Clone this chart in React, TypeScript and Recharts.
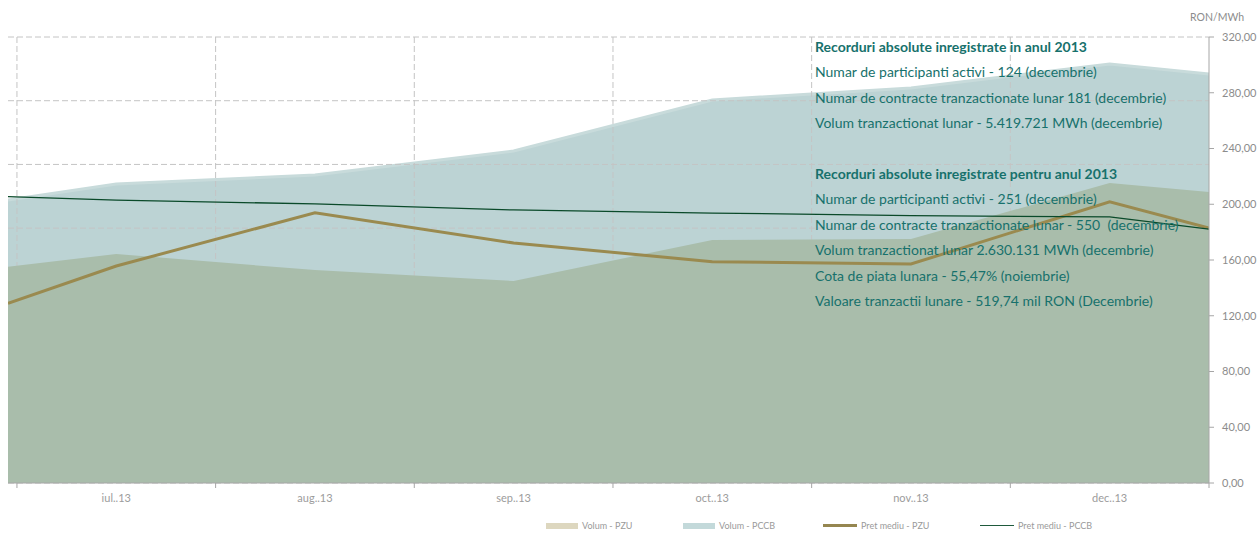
import { Area, CartesianGrid, ComposedChart, Line, XAxis, YAxis } from "recharts";

const months = ["iul..13", "aug..13", "sep..13", "oct..13", "nov..13", "dec..13"];
// volumes (thousand MWh, hidden left axis) and prices (RON/MWh, right axis)
const volumPccb = [2346, 2417, 2605, 3006, 3100, 3288];
const volumPzu = [1797, 1671, 1585, 1907, 1915, 2354];
const pretPzu = [155.7, 193.9, 172.2, 158.8, 157.1, 201.8];
const pretPccb = [203.0, 200.2, 195.9, 193.7, 191.8, 190.9];
// where the series are cut by the left and right edges of the plot
const edgeX = [-0.545, 5.5];
const edgeVolumPccb = [2221, 3210];
const edgeVolumPzu = [1697, 2284];
const edgePretPzu = [128.9, 183.0];
const edgePretPccb = [205.4, 182.2];

const priceTicks = [0, 40, 80, 120, 160, 200, 240, 280, 320];
const volumeTicks = [0, 500, 1000, 1500, 2000, 2500, 3000, 3500];
const xTicks = [-0.5, 0, 0.5, 1, 1.5, 2, 2.5, 3, 3.5, 4, 4.5, 5, 5.5];
const gridX = [-0.5, 0.5, 1.5, 2.5, 3.5, 4.5];

const recordsYear = [
  "Numar de participanti activi - 124 (decembrie)",
  "Numar de contracte tranzactionate lunar 181 (decembrie)",
  "Volum tranzactionat lunar - 5.419.721 MWh (decembrie)",
];
const recordsFor2013 = [
  "Numar de participanti activi - 251 (decembrie)",
  "Numar de contracte tranzactionate lunar - 550  (decembrie)",
  "Volum tranzactionat lunar 2.630.131 MWh (decembrie)",
  "Cota de piata lunara - 55,47% (noiembrie)",
  "Valoare tranzactii lunare - 519,74 mil RON (Decembrie)",
];

const data = [
  { x: edgeX[0], vPccb: edgeVolumPccb[0], vPzu: edgeVolumPzu[0], pPzu: edgePretPzu[0], pPccb: edgePretPccb[0] },
  ...months.map((_, i) => ({
    x: i,
    vPccb: volumPccb[i],
    vPzu: volumPzu[i],
    pPzu: pretPzu[i],
    pPccb: pretPccb[i],
  })),
  { x: edgeX[1], vPccb: edgeVolumPccb[1], vPzu: edgeVolumPzu[1], pPzu: edgePretPzu[1], pPccb: edgePretPccb[1] },
];

const FONT = "Lato, 'Open Sans', sans-serif";
const TEXT = "#17716c";
const AXIS = "#a6a6a6";

function MonthTick({ x, y, payload }: any) {
  const v = payload.value as number;
  if (Number.isInteger(v)) {
    return (
      <text x={x} y={y + 19} textAnchor="middle" fill="#9c9c9c" fontSize={11} fontFamily={FONT}>
        {months[v]}
      </text>
    );
  }
  return <line x1={x} x2={x} y1={y} y2={y + 5} stroke={AXIS} />;
}

const legendItems = [
  { label: "Volum - PZU", color: "#ddd7bf", kind: "box", width: 137 },
  { label: "Volum - PCCB", color: "#c3d9da", kind: "box", width: 140 },
  { label: "Pret mediu - PZU", color: "#958650", kind: "thick", width: 157 },
  { label: "Pret mediu - PCCB", color: "#1f5a3c", kind: "thin", width: 130 },
];

export default function App() {
  return (
    <div style={{ position: "absolute", left: 0, top: 0, width: 1259, height: 534, background: "#fff", fontFamily: FONT }}>
      <ComposedChart width={1259} height={534} data={data} margin={{ top: 37, right: 0, bottom: 21, left: 8 }}>
        <XAxis
          type="number"
          dataKey="x"
          domain={[edgeX[0], edgeX[1]]}
          allowDataOverflow
          ticks={xTicks}
          interval={0}
          tick={<MonthTick />}
          tickLine={false}
          tickSize={0}
          tickMargin={0}
          stroke={AXIS}
          height={30}
        />
        <YAxis yAxisId="vol" domain={[0, 3500]} ticks={volumeTicks} hide />
        <YAxis
          yAxisId="price"
          orientation="right"
          domain={[0, 320]}
          ticks={priceTicks}
          interval={0}
          width={50}
          stroke={AXIS}
          tickSize={5}
          tickMargin={8}
          tick={{ fill: "#8c8c8c", fontSize: 11, fontFamily: FONT }}
          tickFormatter={(v: number) => v.toFixed(2).replace(".", ",")}
        />
        <Area
          yAxisId="vol"
          type="linear"
          dataKey="vPccb"
          fill="#bcd3d4"
          fillOpacity={1}
          stroke="#c8dbdb"
          strokeWidth={3}
          isAnimationActive={false}
          zIndex={50}
        />
        <CartesianGrid
          yAxisId="vol"
          stroke="#c4c4c4"
          strokeDasharray="6 3"
          verticalValues={gridX}
          zIndex={60}
        />
        <Area
          yAxisId="vol"
          type="linear"
          dataKey="vPzu"
          fill="#a9bdab"
          fillOpacity={1}
          stroke="none"
          isAnimationActive={false}
          zIndex={70}
        />
        <Line
          yAxisId="price"
          type="linear"
          dataKey="pPzu"
          stroke="#9a8a4f"
          strokeWidth={3}
          dot={false}
          isAnimationActive={false}
        />
        <Line
          yAxisId="price"
          type="linear"
          dataKey="pPccb"
          stroke="#0a4a2a"
          strokeWidth={1.3}
          dot={false}
          isAnimationActive={false}
        />
      </ComposedChart>

      <div style={{ position: "absolute", left: 1190, top: 11, fontSize: 10.5, color: "#8c8c8c" }}>RON/MWh</div>

      <div style={{ position: "absolute", left: 815, top: 34, color: TEXT, fontSize: 14, lineHeight: "25.4px" }}>
        <div style={{ fontWeight: 700 }}>Recorduri absolute inregistrate in anul 2013</div>
        {recordsYear.map((t) => (
          <div key={t}>{t}</div>
        ))}
        <div style={{ height: 25.4 }} />
        <div style={{ fontWeight: 700 }}>Recorduri absolute inregistrate pentru anul 2013</div>
        {recordsFor2013.map((t) => (
          <div key={t} style={{ whiteSpace: "pre" }}>
            {t}
          </div>
        ))}
      </div>

      <div style={{ position: "absolute", left: 546, top: 520, display: "flex", fontSize: 9, color: "#9a9a9a" }}>
        {legendItems.map((it) => (
          <div key={it.label} style={{ width: it.width, display: "flex", alignItems: "center" }}>
            <span
              style={{
                display: "inline-block",
                width: it.kind === "box" ? 32 : 34,
                height: it.kind === "box" ? 6 : it.kind === "thick" ? 3 : 1.5,
                background: it.color,
                marginRight: 4,
              }}
            />
            {it.label}
          </div>
        ))}
      </div>
    </div>
  );
}
